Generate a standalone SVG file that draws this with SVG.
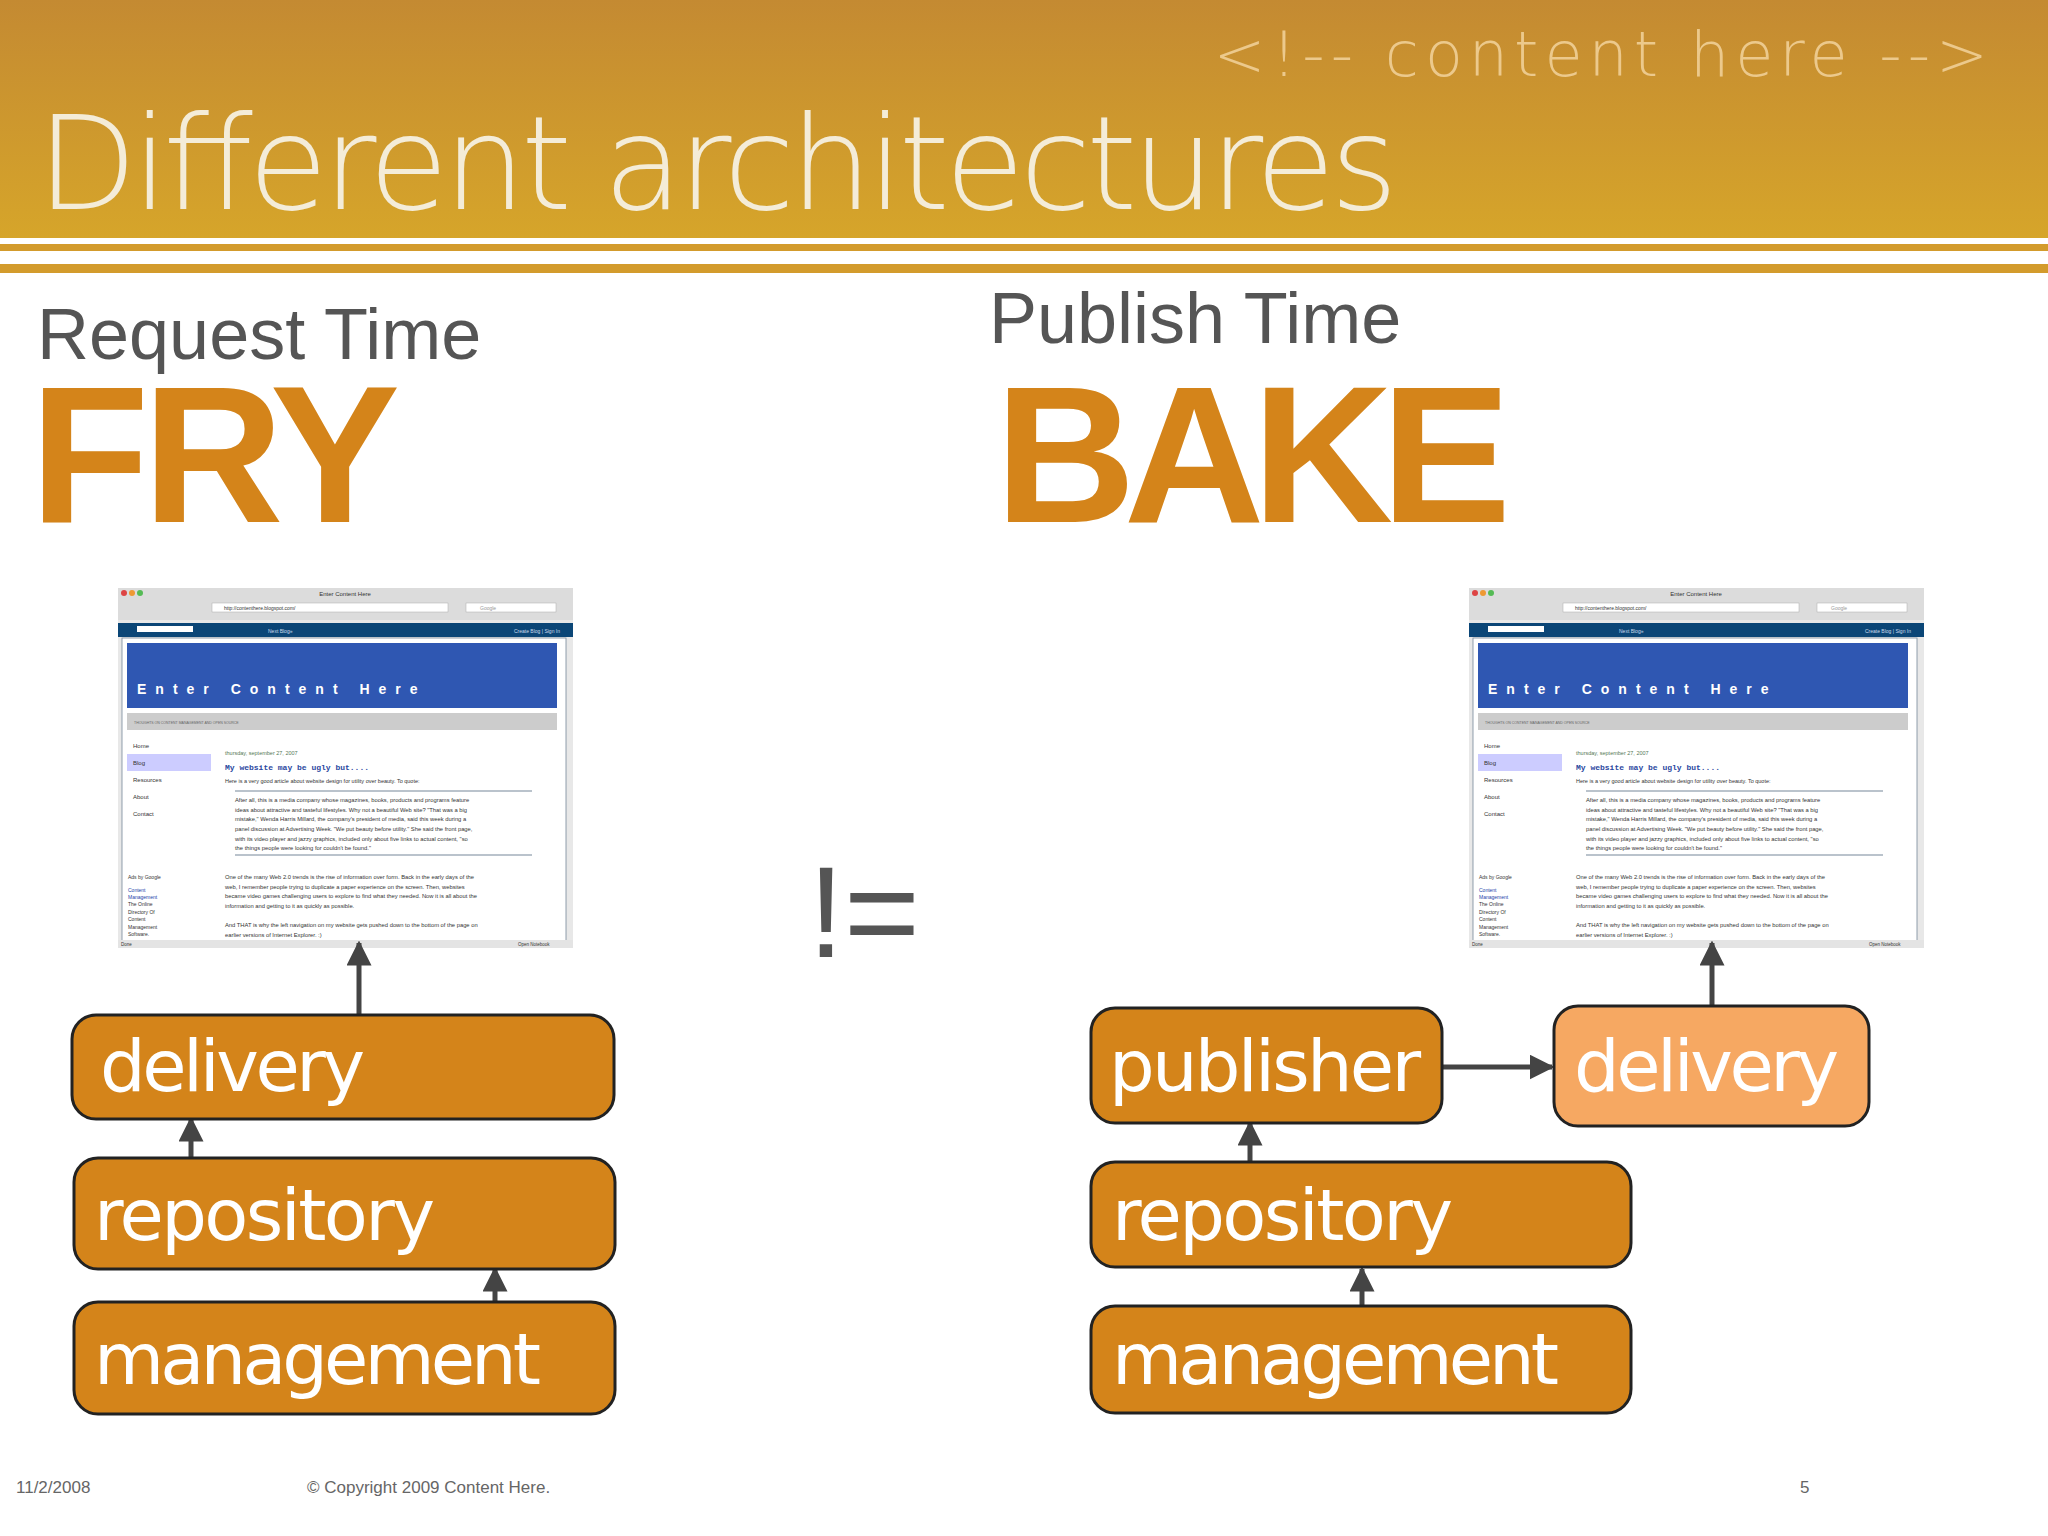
<svg xmlns="http://www.w3.org/2000/svg" xmlns:xlink="http://www.w3.org/1999/xlink" width="2048" height="1536" viewBox="0 0 2048 1536">
<style>
.box{fill:#d4841a;stroke:#222;stroke-width:3}
.boxl{fill:#f6a862;stroke:#222;stroke-width:3}
.bt{font-family:"DejaVu Sans",sans-serif;font-size:72px;fill:#fff}
.con{stroke:#444;stroke-width:5;fill:none;marker-end:url(#ah)}
.ft{font-family:"Liberation Sans",sans-serif;font-size:17px;fill:#666}
.s{font-family:"Liberation Sans",sans-serif;fill:#333}
</style>
<defs>
<linearGradient id="hg" x1="0" y1="0" x2="0" y2="1"><stop offset="0" stop-color="#c48a32"/><stop offset="1" stop-color="#d6a52a"/></linearGradient>
<marker id="ah" viewBox="0 0 10 10" refX="9" refY="5" markerWidth="5" markerHeight="5" orient="auto"><path d="M0,0L10,5L0,10z" fill="#444"/></marker>
<symbol id="shot" viewBox="0 0 455 360" width="455" height="360">
<rect x="0" y="0" width="455" height="360" fill="#e8e8e8"/>
<rect x="0" y="0" width="455" height="32" fill="#dcdcdc"/>
<circle cx="6" cy="5" r="3" fill="#d44"/><circle cx="14" cy="5" r="3" fill="#e93"/><circle cx="22" cy="5" r="3" fill="#5b5"/>
<text x="227" y="8" font-size="6" text-anchor="middle" class="s">Enter Content Here</text>
<rect x="94" y="15" width="236" height="9" fill="#fff" stroke="#aaa" stroke-width="0.5"/>
<text x="106" y="22" font-size="5" class="s">http://contenthere.blogspot.com/</text>
<rect x="348" y="15" width="90" height="9" fill="#fff" stroke="#aaa" stroke-width="0.5"/>
<text x="362" y="22" font-size="5" fill="#999" font-family="Liberation Sans,sans-serif">Google</text>
<rect x="0" y="35" width="455" height="14" fill="#0b4677"/>
<rect x="19" y="38" width="56" height="6" fill="#fff"/>
<text x="150" y="45" font-size="5" fill="#cde" font-family="Liberation Sans,sans-serif">Next Blog»</text>
<text x="442" y="45" font-size="5" fill="#cde" font-family="Liberation Sans,sans-serif" text-anchor="end">Create Blog | Sign In</text>
<rect x="4" y="50" width="444" height="305" fill="#fff" stroke="#789" stroke-width="0.8"/>
<rect x="9" y="55" width="430" height="65" fill="#2f57b2"/>
<text x="19" y="106" font-size="14" font-weight="bold" fill="#fff" font-family="Liberation Sans,sans-serif" letter-spacing="9">Enter Content Here</text>
<rect x="9" y="125" width="430" height="17" fill="#ccc"/>
<text x="16" y="136" font-size="3.5" fill="#666" font-family="Liberation Sans,sans-serif">THOUGHTS ON CONTENT MANAGEMENT AND OPEN SOURCE</text>
<rect x="9" y="166" width="84" height="17" fill="#ccf"/>
<g font-size="6" class="s"><text x="15" y="160">Home</text><text x="15" y="177">Blog</text><text x="15" y="194">Resources</text><text x="15" y="211">About</text><text x="15" y="228">Contact</text></g>
<text x="107" y="167" font-size="5.5" fill="#575" font-family="Liberation Sans,sans-serif">thursday, september 27, 2007</text>
<text x="107" y="182" font-size="8" fill="#2a48a0" font-weight="bold" font-family="Liberation Mono,monospace">My website may be ugly but....</text>
<text x="107" y="195" font-size="5.5" class="s">Here is a very good article about website design for utility over beauty. To quote:</text>
<line x1="117" y1="203" x2="414" y2="203" stroke="#789" stroke-width="1.2"/>
<g font-size="5.8" class="s"><text x="117" y="214">After all, this is a media company whose magazines, books, products and programs feature</text><text x="117" y="224">ideas about attractive and tasteful lifestyles. Why not a beautiful Web site? "That was a big</text><text x="117" y="233">mistake," Wenda Harris Millard, the company's president of media, said this week during a</text><text x="117" y="243">panel discussion at Advertising Week. "We put beauty before utility." She said the front page,</text><text x="117" y="253">with its video player and jazzy graphics, included only about five links to actual content, "so</text><text x="117" y="262">the things people were looking for couldn't be found."</text>
<text x="107" y="291">One of the many Web 2.0 trends is the rise of information over form. Back in the early days of the</text><text x="107" y="301">web, I remember people trying to duplicate a paper experience on the screen. Then, websites</text><text x="107" y="310">became video games challenging users to explore to find what they needed. Now it is all about the</text><text x="107" y="320">information and getting to it as quickly as possible.</text>
<text x="107" y="339">And THAT is why the left navigation on my website gets pushed down to the bottom of the page on</text><text x="107" y="349">earlier versions of Internet Explorer. :)</text></g>
<line x1="117" y1="267" x2="414" y2="267" stroke="#789" stroke-width="1.2"/>
<g font-size="5" class="s"><text x="10" y="291">Ads by Google</text><text x="10" y="304" fill="#24a">Content</text><text x="10" y="311" fill="#24a">Management</text><text x="10" y="318">The Online</text><text x="10" y="326">Directory Of</text><text x="10" y="333">Content</text><text x="10" y="341">Management</text><text x="10" y="348">Software.</text></g>
<rect x="0" y="352" width="455" height="8" fill="#e4e4e4"/>
<text x="3" y="358" font-size="4.5" class="s">Done</text>
<text x="400" y="358" font-size="4.5" class="s">Open Notebook</text>
</symbol>
</defs>
<rect width="2048" height="1536" fill="#fff"/>
<rect x="0" y="0" width="2048" height="238" fill="url(#hg)"/>
<rect x="0" y="244" width="2048" height="7" fill="#d39b2c"/>
<rect x="0" y="264" width="2048" height="9" fill="#d39b2c"/>
<text x="1994" y="76" text-anchor="end" font-family="DejaVu Sans,sans-serif" font-size="62" fill="#ecc98c" letter-spacing="6" font-weight="200">&lt;!-- content here --&gt;</text>
<text x="37" y="209" font-family="DejaVu Sans,sans-serif" font-size="130" font-weight="200" fill="#f4ecd8" textLength="1361">Different architectures</text>
<text x="37" y="359" font-family="Liberation Sans,sans-serif" font-size="72" fill="#555">Request Time</text>
<text x="30" y="522" font-family="Liberation Sans,sans-serif" font-size="195" font-weight="bold" fill="#d4841a" textLength="370">FRY</text>
<text x="989" y="343" font-family="Liberation Sans,sans-serif" font-size="72" fill="#555">Publish Time</text>
<text x="995" y="522" font-family="Liberation Sans,sans-serif" font-size="195" font-weight="bold" fill="#d4841a" textLength="516">BAKE</text>
<text x="808" y="957" font-family="Liberation Sans,sans-serif" font-size="130" fill="#555">!=</text>
<g id="shotL"><use xlink:href="#shot" x="118" y="588"/></g>
<g id="shotR"><use xlink:href="#shot" x="1469" y="588"/></g>
<g id="connectors">
<line class="con" x1="359" y1="1015" x2="359" y2="943"/>
<line class="con" x1="191" y1="1158" x2="191" y2="1119"/>
<line class="con" x1="495" y1="1302" x2="495" y2="1269"/>
<line class="con" x1="1712" y1="1006" x2="1712" y2="943"/>
<line class="con" x1="1442" y1="1067" x2="1552" y2="1067"/>
<line class="con" x1="1250" y1="1162" x2="1250" y2="1123"/>
<line class="con" x1="1362" y1="1306" x2="1362" y2="1269"/>
</g>
<g id="deliveryL"><rect class="box" x="72" y="1015" width="542" height="104" rx="24"/><text class="bt" x="100" y="1091" textLength="265">delivery</text></g>
<g id="repositoryL"><rect class="box" x="74" y="1158" width="541" height="111" rx="24"/><text class="bt" x="94" y="1240" textLength="341">repository</text></g>
<g id="managementL"><rect class="box" x="74" y="1302" width="541" height="112" rx="24"/><text class="bt" x="94" y="1384" textLength="447">management</text></g>
<g id="publisher"><rect class="box" x="1091" y="1008" width="351" height="115" rx="24"/><text class="bt" x="1109" y="1091" textLength="312">publisher</text></g>
<g id="deliveryR"><rect class="boxl" x="1554" y="1006" width="315" height="120" rx="24"/><text class="bt" x="1574" y="1091" textLength="265">delivery</text></g>
<g id="repositoryR"><rect class="box" x="1091" y="1162" width="540" height="105" rx="24"/><text class="bt" x="1112" y="1240" textLength="341">repository</text></g>
<g id="managementR"><rect class="box" x="1091" y="1306" width="540" height="107" rx="24"/><text class="bt" x="1112" y="1384" textLength="447">management</text></g>
<text class="ft" x="16" y="1493">11/2/2008</text>
<text class="ft" x="307" y="1493">© Copyright 2009 Content Here.</text>
<text class="ft" x="1800" y="1493">5</text>
</svg>
